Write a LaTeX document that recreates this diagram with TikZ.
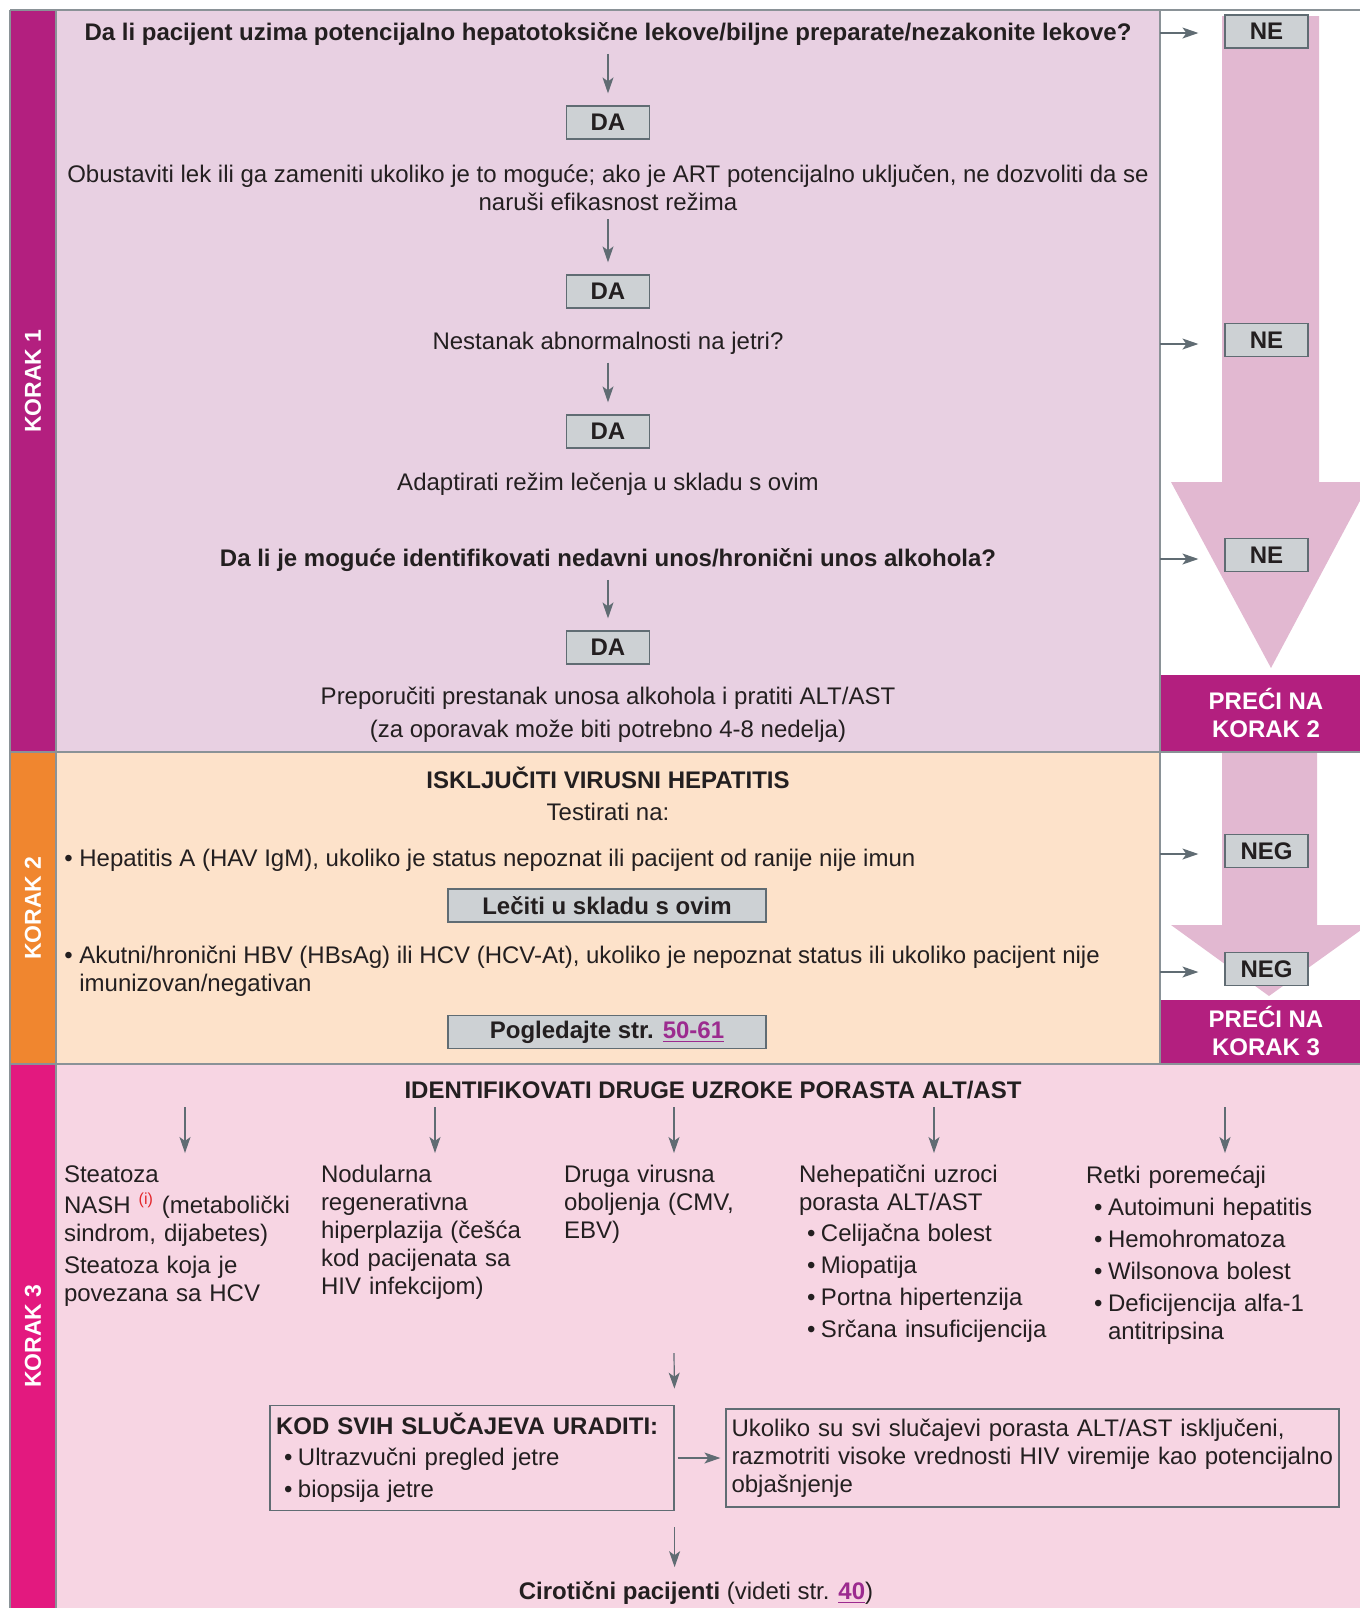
\documentclass[tikz,border=0pt]{standalone}
\usepackage{fontspec}
\setmainfont{Liberation Sans}
\usetikzlibrary{arrows.meta, positioning, calc}

\definecolor{stepone}{RGB}{179, 31, 127}
\definecolor{steponebg}{RGB}{232, 208, 226}
\definecolor{steptwo}{RGB}{240, 134, 47}
\definecolor{steptwobg}{RGB}{253, 226, 202}
\definecolor{stepthree}{RGB}{227, 25, 127}
\definecolor{stepthreebg}{RGB}{247, 213, 227}
\definecolor{bigarrow}{RGB}{226, 184, 209}
\definecolor{boxgray}{RGB}{205, 209, 212}
\definecolor{lineslate}{RGB}{96, 108, 115}
\definecolor{framegray}{RGB}{138, 146, 151}
\definecolor{linkpurple}{RGB}{156, 43, 143}
\definecolor{notered}{RGB}{227, 38, 43}
\definecolor{inkdark}{RGB}{35, 31, 32}

\newcommand{\bul}{\makebox[7.5pt][l]{\textbullet}}
\newcommand{\sbul}{\hspace*{4pt}\makebox[7pt][l]{\textbullet}}

\tikzset{
  txt/.style={font=\fontsize{12}{14}\selectfont, text=inkdark, inner sep=0pt, align=center},
  qtxt/.style={txt, font=\fontsize{12}{14}\selectfont\bfseries},
  answer/.style={draw=lineslate, fill=boxgray, line width=0.6pt, font=\fontsize{12}{14}\selectfont\bfseries, text=inkdark, minimum width=41.5pt, minimum height=16.5pt, inner sep=0pt},
  wideanswer/.style={answer, minimum width=159pt},
  goto/.style={font=\fontsize{12}{14}\selectfont\bfseries, text=white, align=center, inner sep=0pt},
  band/.style={font=\fontsize{11.5}{14}\selectfont\bfseries, text=white, rotate=90, inner sep=0pt},
  flow/.style={draw=lineslate, line width=0.6pt, -{Stealth[length=8pt, width=5.5pt, inset=2pt]}, shorten <=4pt, shorten >=6pt},
  side/.style={flow, shorten <=0pt, shorten >=13pt},
  col/.style={txt, align=left, anchor=north},
  outline/.style={draw=lineslate, line width=0.6pt, text=inkdark, font=\fontsize{12}{14}\selectfont, align=left, inner xsep=3pt, inner ysep=4pt, minimum height=49pt}
}

\begin{document}
\hyphenpenalty=10000
\begin{tikzpicture}[x=0.5pt, y=-0.5pt]
  \useasboundingbox (0,0) rectangle (1360,1608);
  \clip (0,0) rectangle (1360,1608);

  % Backgrounds
  \fill[steponebg] (56,10) rectangle (1160,752);
  \fill[steptwobg] (56,752) rectangle (1160,1064);
  \fill[stepthreebg] (56,1064) rectangle (1360,1608);
  \fill[stepone] (10,10) rectangle (56,752);
  \fill[steptwo] (10,752) rectangle (56,1064);
  \fill[stepthree] (10,1064) rectangle (56,1608);

  % Big arrows on the right
  \fill[bigarrow] (1222,16) -- (1319,16) -- (1319,482) -- (1370,482) -- (1271,668) -- (1171,482) -- (1222,482) -- cycle;
  \fill[bigarrow] (1222,752) -- (1317,752) -- (1317,925) -- (1368,925) -- (1269,996) -- (1171,925) -- (1222,925) -- cycle;
  \fill[stepone] (1160,675) rectangle (1360,752);
  \fill[stepone] (1160,1000) rectangle (1360,1064);

  % Frame
  \draw[framegray, line width=0.75pt] (10,10) -- (1360,10);
  \draw[framegray, line width=0.75pt] (10,10) -- (10,1608);
  \draw[framegray, line width=0.75pt] (56,10) -- (56,1608);
  \draw[framegray, line width=0.75pt] (1160,10) -- (1160,1064);
  \draw[framegray, line width=0.75pt] (10,752) -- (1360,752);
  \draw[framegray, line width=0.75pt] (10,1064) -- (1360,1064);

  % Step labels
  \node[band] (k1) at (33,381) {KORAK 1};
  \node[band] (k2) at (33,908) {KORAK 2};
  \node[band] (k3) at (33,1336) {KORAK 3};
  \node[goto] (go2) at (1266,713) {PREĆI NA\\KORAK 2};
  \node[goto] (go3) at (1266,1031) {PREĆI NA\\KORAK 3};

  % Step 1
  \node[qtxt] (q1) at (608,34) {Da li pacijent uzima potencijalno hepatotoksične lekove/biljne preparate/nezakonite lekove?};
  \node[answer] (da1) at (608,122.5) {DA};
  \node[txt] (stop) at (608,188) {Obustaviti lek ili ga zameniti ukoliko je to moguće; ako je ART potencijalno uključen, ne dozvoliti da se\\naruši efikasnost režima};
  \node[answer] (da2) at (608,291.5) {DA};
  \node[txt] (q2) at (608,343) {Nestanak abnormalnosti na jetri?};
  \node[answer] (da3) at (608,431.5) {DA};
  \node[txt] (adapt) at (608,484) {Adaptirati režim lečenja u skladu s ovim};
  \node[qtxt] (q3) at (608,560) {Da li je moguće identifikovati nedavni unos/hronični unos alkohola?};
  \node[answer] (da4) at (608,647.5) {DA};
  \node[txt] (alc) at (608,715) {Preporučiti prestanak unosa alkohola i pratiti ALT/AST\\[2.5pt](za oporavak može biti potrebno 4-8 nedelja)};

  \draw[flow] (q1) -- (da1);
  \draw[flow] (stop) -- (da2);
  \draw[flow] (q2) -- (da3);
  \draw[flow] (q3) -- (da4);

  \node[answer] (ne1) at (1266.5,31.5) {NE};
  \node[answer] (ne2) at (1266.5,340) {NE};
  \node[answer] (ne3) at (1266.5,555) {NE};
  \coordinate (ne1in) at (1160,33);
  \coordinate (ne2in) at (1160,344);
  \coordinate (ne3in) at (1160,559);
  \draw[side] (ne1in) -- (ne1in -| ne1.west);
  \draw[side] (ne2in) -- (ne2in -| ne2.west);
  \draw[side] (ne3in) -- (ne3in -| ne3.west);

  % Step 2
  \node[qtxt] (t2) at (608,778) {ISKLJUČITI VIRUSNI HEPATITIS};
  \node[txt] (test) at (608,812) {Testirati na:};
  \node[txt, anchor=west, align=left] (hav) at (64,860) {\bul Hepatitis A (HAV IgM), ukoliko je status nepoznat ili pacijent od ranije nije imun};
  \node[wideanswer] (treat) at (607,905.5) {Lečiti u skladu s ovim};
  \node[txt, anchor=west, align=left] (hbv) at (64,971.5) {\bul Akutni/hronični HBV (HBsAg) ili HCV (HCV-At), ukoliko je nepoznat status ili ukoliko pacijent nije\\\hspace*{7.5pt}imunizovan/negativan};
  \node[wideanswer] (see) at (607,1032) {Pogledajte str. \textcolor{linkpurple}{\underline{50-61}}};

  \node[answer] (neg1) at (1266.5,851) {NEG};
  \node[answer] (neg2) at (1266.5,969) {NEG};
  \coordinate (neg1in) at (1160,854);
  \coordinate (neg2in) at (1160,972);
  \draw[side] (neg1in) -- (neg1in -| neg1.west);
  \draw[side] (neg2in) -- (neg2in -| neg2.west);

  % Step 3
  \node[qtxt] (t3) at (713,1090) {IDENTIFIKOVATI DRUGE UZROKE PORASTA ALT/AST};
  \node[col, text width=121pt] (c1) at (185,1165) {Steatoza\\[1.5pt]
    NASH \textsuperscript{\textcolor{notered}{(i)}} (metabolički\\sindrom, dijabetes)\\[2pt]
    Steatoza koja je\\povezana sa HCV};
  \node[col, text width=114pt] (c2) at (435,1165) {Nodularna\\regenerativna\\hiperplazija (češća\\kod pacijenata sa\\HIV infekcijom)};
  \node[col, text width=110pt] (c3) at (674,1165) {Druga virusna\\oboljenja (CMV,\\EBV)};
  \node[col, text width=135pt] (c4) at (934,1165) {Nehepatični uzroci\\porasta ALT/AST\\[1.5pt]
    \sbul Celijačna bolest\\[2pt]\sbul Miopatija\\[2pt]\sbul Portna hipertenzija\\[2pt]\sbul Srčana insuficijencija};
  \node[col, text width=139pt] (c5) at (1225,1165) {Retki poremećaji\\[2pt]
    \sbul Autoimuni hepatitis\\[2pt]\sbul Hemohromatoza\\[2pt]\sbul Wilsonova bolest\\[2pt]\sbul Deficijencija alfa-1\\\hspace*{11pt}antitripsina};
  \foreach \c in {c1, c2, c3, c4, c5}
    \draw[flow] (t3.south -| \c.north) -- (\c.north);

  \node[outline, text width=196pt] (kod) at (472,1458) {\textbf{KOD SVIH SLUČAJEVA URADITI:}\\[1.5pt]
    \sbul Ultrazvučni pregled jetre\\[2pt]\sbul biopsija jetre};
  \node[outline, text width=301pt, inner xsep=2.75pt] (expl) at (1032.5,1458) {Ukoliko su svi slučajevi porasta ALT/AST isključeni,\\razmotriti visoke vrednosti HIV viremije kao potencijalno\\objašnjenje};
  \node[txt] (cir) at (696,1593) {\textbf{Cirotični pacijenti} (videti str. \textcolor{linkpurple}{\textbf{\underline{40}}})};

  \coordinate (merge) at (674,1353);
  \draw[flow, shorten <=0pt, shorten >=8pt] (merge) -- (kod.north east);
  \draw[flow, shorten <=1.5pt, shorten >=2.5pt] (kod.east) -- (expl.west);
  \draw[flow, shorten <=8pt, shorten >=7pt] (kod.south east) -- (kod.south east |- cir.north);
\end{tikzpicture}
\end{document}
